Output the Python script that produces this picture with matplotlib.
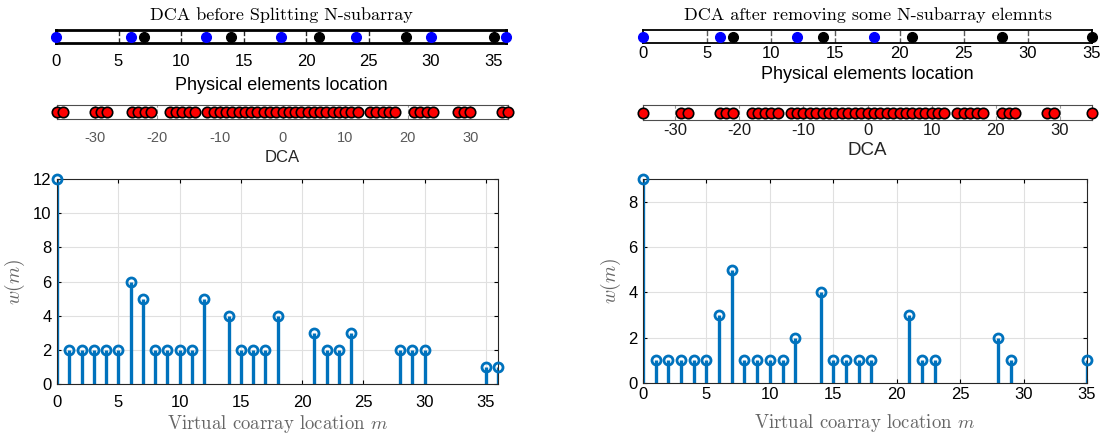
import matplotlib
matplotlib.use("Agg")
import matplotlib.pyplot as plt
import numpy as np

plt.rcParams['font.family'] = ['Liberation Sans', 'DejaVu Sans']
plt.rcParams['mathtext.fontset'] = 'cm'

# physical elements (left: before splitting, right: after removing)
sol_mavi = [0, 6, 12, 18, 24, 30, 36]
sol_siyah = [7, 14, 21, 28, 35]
sag_mavi = [0, 6, 12, 18]
sag_siyah = [7, 14, 21, 28, 35]

# weight function w(m)
sol_m = [0, 1, 2, 3, 4, 5, 6, 7, 8, 9, 10, 11, 12, 14, 15, 16, 17, 18,
         21, 22, 23, 24, 28, 29, 30, 35, 36]
sol_w = [12, 2, 2, 2, 2, 2, 6, 5, 2, 2, 2, 2, 5, 4, 2, 2, 2, 4,
         3, 2, 2, 3, 2, 2, 2, 1, 1]
sag_m = [0, 1, 2, 3, 4, 5, 6, 7, 8, 9, 10, 11, 12, 14, 15, 16, 17, 18,
         21, 22, 23, 28, 29, 35]
sag_w = [9, 1, 1, 1, 1, 1, 3, 5, 1, 1, 1, 1, 2, 4, 1, 1, 1, 1,
         3, 1, 1, 2, 1, 1]

W, H = 1107, 438
fig = plt.figure(figsize=(W / 100, H / 100), dpi=100)


def kutu(x0, y0, x1, y1):
    return [x0 / W, 1 - y1 / H, (x1 - x0) / W, (y1 - y0) / H]


mavi = '#0072BD'
serif = 'cmr10'


def fiziksel(rect, mavi_x, siyah_x, xmax, baslik, pad, lpad, kalin, kesik):
    ax = fig.add_axes(kutu(*rect))
    ax.plot(mavi_x, np.zeros(len(mavi_x)), 'o', color='blue', ms=7, clip_on=False, zorder=3)
    ax.plot(siyah_x, np.zeros(len(siyah_x)), 'o', color='black', ms=7, clip_on=False, zorder=3)
    ax.set_xlim(0, xmax)
    ax.set_ylim(-1, 1)
    ax.set_yticks([])
    ax.set_xticks(range(0, 36, 5))
    ax.tick_params(axis='x', length=0, labelsize=12, pad=pad)
    for v in range(5, 36, 5):
        if v < xmax:
            ax.axvline(v, color=kesik, ls='--', lw=1)
    for s in ax.spines.values():
        s.set_linewidth(kalin)
    ax.set_title(baslik, fontfamily=serif, fontsize=13, pad=7)
    ax.set_xlabel('Physical elements location', fontsize=13, labelpad=lpad)
    return ax


def dca(rect, m, xmax, pad, boyut, renk):
    lags = sorted(set([-v for v in m] + list(m)))
    ax = fig.add_axes(kutu(*rect))
    ax.plot(lags, np.zeros(len(lags)), 'o', mfc='red', mec='black', ms=7.5, mew=1.2,
            clip_on=False, zorder=3)
    ax.set_xlim(-xmax, xmax)
    ax.set_ylim(-1, 1)
    ax.set_yticks([])
    ax.set_xticks([-30, -20, -10, 0, 10, 20, 30])
    ax.set_xticklabels(['-30', '-20', '-10', '0', '10', '20', '30'])
    ax.tick_params(axis='x', length=0, labelsize=boyut, pad=pad, labelcolor=renk)
    for v in [-30, -20, -10, 0, 10, 20, 30]:
        ax.axvline(v, color='0.6', ls='--', lw=0.8)
    for s in ax.spines.values():
        s.set_linewidth(0.8)
        s.set_color('0.3')
    ax.set_xlabel('DCA', fontsize=boyut + 1.5, labelpad=3, color='0.15')
    return ax


def stem(rect, m, w, xmax, ymax, pad, lpad):
    ax = fig.add_axes(kutu(*rect))
    ml, sl, bl = ax.stem(m, w, linefmt='-', markerfmt='o', basefmt=' ')
    plt.setp(sl, color=mavi, lw=2.4)
    plt.setp(ml, color=mavi, mfc='none', mew=2, ms=6.5, clip_on=False, zorder=4)
    ax.set_xlim(0, xmax)
    ax.set_ylim(0, ymax)
    ax.set_xticks(range(0, 36, 5))
    ax.set_yticks(range(0, int(ymax) + 1, 2))
    ax.grid(True, color='0.88', lw=0.8)
    ax.set_axisbelow(True)
    ax.tick_params(labelsize=12, direction='in', top=True, right=True, length=3, pad=4)
    ax.tick_params(axis='x', pad=pad)
    for s in ax.spines.values():
        s.set_linewidth(0.8)
        s.set_color('0.15')
    ax.set_ylabel(r'$w(m)$', fontsize=14, color='0.4', labelpad=4)
    ax.set_xlabel(r'Virtual coarray location $m$', fontfamily=serif, fontsize=13.5,
                  color='0.4', labelpad=lpad)
    return ax


fiziksel((56, 30, 506, 43), sol_mavi, sol_siyah, 36, 'DCA before Splitting N-subarray',
         8, 6, 2.0, '0.15')
fiziksel((643, 30, 1092, 43), sag_mavi, sag_siyah, 35,
         'DCA after removing some N-subarray elemnts', 2, 4, 1.3, '0.35')
dca((57, 105, 508, 119), sol_m, 36, 9, 10.5, '0.35')
dca((643, 105, 1092, 120), sag_m, 35, 2, 12, '0.1')
stem((57, 179, 498, 384), sol_m, sol_w, 36, 12, 8, 2)
stem((643, 179, 1087, 383), sag_m, sag_w, 35, 9, 3, 7)

fig.savefig('out.png', dpi=100)
